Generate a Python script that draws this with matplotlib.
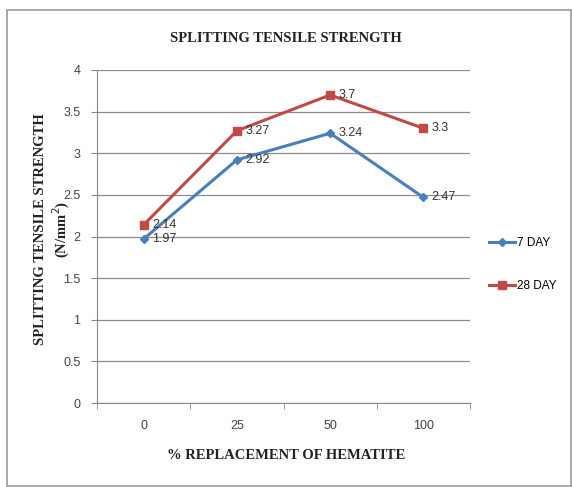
import matplotlib.pyplot as plt
from matplotlib.patches import Rectangle

# % replacement of hematite and splitting tensile strength (N/mm2)
categories = ['0', '25', '50', '100']
day7 = [1.97, 2.92, 3.24, 2.47]
day28 = [2.14, 3.27, 3.7, 3.3]
yticks = [0, 0.5, 1, 1.5, 2, 2.5, 3, 3.5, 4]

blue = '#4a7ebb'
red = '#be4b48'
serif = 'Liberation Serif'
sans = 'Liberation Sans'

fig = plt.figure(figsize=(5.72, 4.87), dpi=100)
fig.patches.append(Rectangle((7 / 572, 1 / 487), 564 / 572, 476 / 487,
                             transform=fig.transFigure, fill=False,
                             edgecolor='#9a9a9a', linewidth=1.2))

ax = fig.add_axes([97 / 572, 84 / 487, 373 / 572, 333 / 487])
x = list(range(len(categories)))

ax.plot(x, day7, color=blue, lw=2.2, marker='D', ms=4.5, label='7 DAY')
ax.plot(x, day28, color=red, lw=2.2, marker='s', ms=5.5, label='28 DAY')

for i in x:
    ax.text(i + 0.09, day7[i], str(day7[i]), fontsize=9, family=sans,
            color='#333333', va='center', ha='left')
    ax.text(i + 0.09, day28[i], str(day28[i]), fontsize=9, family=sans,
            color='#333333', va='center', ha='left')

ax.set_xlim(-0.5, len(categories) - 0.5)
ax.set_ylim(0, 4)
ax.set_yticks(yticks)
ax.set_yticklabels([f'{v:g}' for v in yticks], fontsize=9, family=sans,
                   color='#444444')
ax.set_xticks(x)
ax.set_xticklabels(categories, fontsize=9, family=sans, color='#444444')
ax.tick_params(axis='x', length=0, pad=12)
ax.tick_params(axis='y', length=4, color='#888888', pad=8)
ax.set_xticks([-0.5, 0.5, 1.5, 2.5, 3.5], minor=True)
ax.tick_params(axis='x', which='minor', length=4, color='#888888')

ax.grid(axis='y', color='#8c8c8c', lw=0.9)
ax.set_axisbelow(True)
for s in ['top', 'right']:
    ax.spines[s].set_visible(False)
ax.spines['left'].set_color('#888888')
ax.spines['bottom'].set_color('#888888')

fig.text(0.5, 0.92, 'SPLITTING TENSILE STRENGTH', ha='center', va='center',
         fontsize=10.5, family=serif, fontweight='bold', color='#222222')
fig.text(0.5, 0.065, '% REPLACEMENT OF HEMATITE', ha='center', va='center',
         fontsize=10.5, family=serif, fontweight='bold', color='#222222')
fig.text(41 / 572, 0.53, 'SPLITTING TENSILE STRENGTH', rotation=90,
         ha='center', va='center', fontsize=10.5, family=serif,
         fontweight='bold', color='#222222')
fig.text(61 / 572, 0.53, '(N/mm$^2$)', rotation=90, ha='center', va='center',
         fontsize=10.5, family=serif, fontweight='bold', color='#222222')

fig.legend(loc='center left', bbox_to_anchor=(478 / 572, 0.457),
           frameon=False, handlelength=2.2, labelspacing=2.6,
           handletextpad=0.2, prop={'family': sans, 'size': 8.5})

fig.savefig('out.png', dpi=100)
